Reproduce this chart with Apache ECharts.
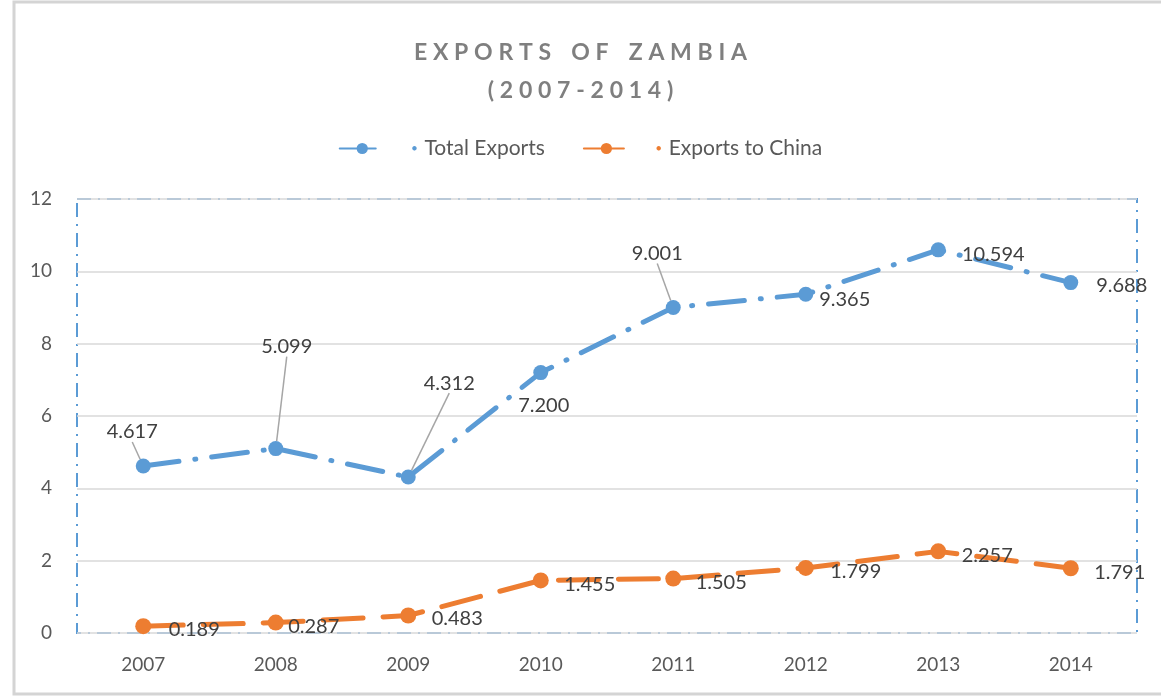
<!DOCTYPE html>
<html><head><meta charset="utf-8">
<script src="https://cdn.jsdelivr.net/npm/echarts@6/dist/echarts.min.js"></script>
<style>html,body{margin:0;padding:0;background:#fff}#c{width:1161px;height:696px}</style>
</head><body><div id="c"></div>
<script>
const years = ['2007','2008','2009','2010','2011','2012','2013','2014'];
const totalExports = [4.617, 5.099, 4.312, 7.200, 9.001, 9.365, 10.594, 9.688];
const chinaExports = [0.189, 0.287, 0.483, 1.455, 1.505, 1.799, 2.257, 1.791];
const yTicks = { min: 0, max: 12, interval: 2 };

// label placement (style only): [dx, dy, showLeaderLine]
const blueLabelPos = [[-11,-34,true],[11,-102,true],[41,-94,true],[3,33,false],[-16,-54,true],[39,5,false],[55,5,false],[51,3,false]];
const orangeLabelPos = [[51,3],[38,4],[49,3],[49,4],[48,4],[50,4],[49,4],[49,4]];

function spaced(s){ return s.split('').join('\u2009\u2009'); }

const chart = echarts.init(document.getElementById('c'));
const FONT = 'Lato';
chart.setOption({
  animation: false,
  textStyle: { fontFamily: FONT },
  graphic: [{ type: 'rect', shape: { x: 14, y: 2, width: 1160, height: 692 }, style: { fill: 'none', stroke: '#d4d4d4', lineWidth: 3 } }],
  title: {
    text: spaced('EXPORTS') + '\u2003\u2009' + spaced('OF') + '\u2003\u2009' + spaced('ZAMBIA') + '\n' + spaced('(2007-2014)'),
    left: 'center', top: 29,
    textStyle: { fontFamily: FONT, fontSize: 23, fontWeight: 'bold', color: '#7f7f7f', lineHeight: 38 }
  },
  legend: {
    top: 133, left: 'center', itemWidth: 45, itemHeight: 14, itemGap: 38,
    textStyle: { fontFamily: FONT, fontSize: 21, color: '#595959',
      rich: { b: { color: '#5b9bd5', fontSize: 9, padding: [0, 2, 0, 22] }, o: { color: '#ed7d31', fontSize: 9, padding: [0, 2, 0, 22] } } },
    formatter: n => (n === 'Total Exports' ? '{b|●}' : '{o|●}') + ' ' + n,
    data: ['Total Exports', 'Exports to China']
  },
  grid: { left: 77, right: 24, top: 199, bottom: 63, show: true, borderColor: '#5b9bd5', borderWidth: 2, borderType: [14, 7, 2, 7] },
  xAxis: {
    type: 'category', data: years, boundaryGap: true,
    axisLine: { show: false }, axisTick: { show: false },
    axisLabel: { fontFamily: FONT, fontSize: 19, color: '#595959', margin: 22 }
  },
  yAxis: {
    type: 'value', min: yTicks.min, max: yTicks.max, interval: yTicks.interval,
    axisLine: { show: false }, axisTick: { show: false },
    axisLabel: { fontFamily: FONT, fontSize: 19, color: '#595959', margin: 25 },
    splitLine: { lineStyle: { color: '#d9d9d9', width: 1.5 } }
  },
  series: [
    {
      name: 'Total Exports', type: 'line', data: totalExports.map((v, i) => ({ value: v, labelLine: { show: blueLabelPos[i][2] } })),
      symbol: 'circle', symbolSize: 15, color: '#5b9bd5',
      lineStyle: { width: 5, color: '#5b9bd5', type: [36, 16, 1, 16], cap: 'round' },
      itemStyle: { color: '#5b9bd5' },
      label: { show: true, position: 'inside', formatter: p => p.value.toFixed(3), fontFamily: FONT, fontSize: 20, color: '#404040' },
      labelLine: { show: true, lineStyle: { color: '#a6a6a6', width: 1.5 } },
      labelLayout: p => ({ dx: blueLabelPos[p.dataIndex][0], dy: blueLabelPos[p.dataIndex][1] })
    },
    {
      name: 'Exports to China', type: 'line', data: chinaExports,
      symbol: 'circle', symbolSize: 16, color: '#ed7d31',
      lineStyle: { width: 5, color: '#ed7d31', type: [40, 20], cap: 'round' },
      itemStyle: { color: '#ed7d31' },
      label: { show: true, position: 'inside', formatter: p => p.value.toFixed(3), fontFamily: FONT, fontSize: 20, color: '#404040' },
      labelLayout: p => ({ dx: orangeLabelPos[p.dataIndex][0], dy: orangeLabelPos[p.dataIndex][1] })
    }
  ]
});
</script></body></html>
